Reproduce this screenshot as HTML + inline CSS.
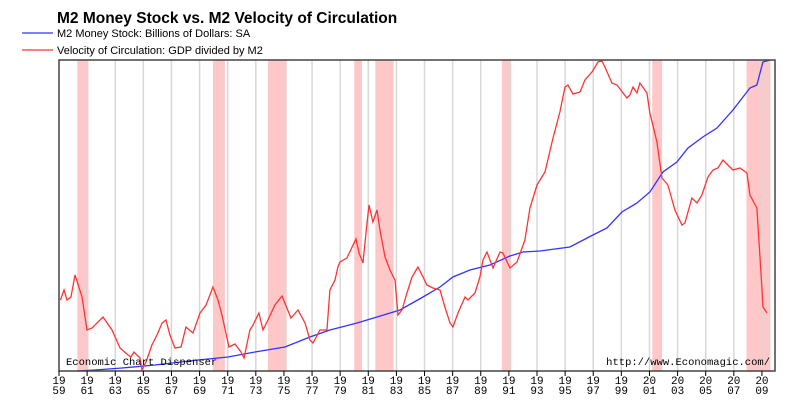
<!DOCTYPE html>
<html><head><meta charset="utf-8"><style>
html,body{margin:0;padding:0;background:#fff;}
svg{display:block;}
</style></head><body>
<svg id="chart" width="802" height="411" xmlns="http://www.w3.org/2000/svg" font-family="Liberation Sans, sans-serif">
<text x="57" y="23" font-size="15.5" font-weight="bold" fill="#000">M2 Money Stock vs. M2 Velocity of Circulation</text>
<g><line x1="22" y1="33" x2="53" y2="33" stroke="#3333ff" stroke-width="1.3"/><text x="57" y="37" font-size="11" fill="#000">M2 Money Stock: Billions of Dollars: SA</text></g>
<g><line x1="22" y1="50" x2="53" y2="50" stroke="#ff3333" stroke-width="1.3"/><text x="57" y="54" font-size="11" fill="#000">Velocity of Circulation: GDP divided by M2</text></g>
<g id="recessions"></g>
<g id="grid"></g>
<g id="series"></g>
<rect x="59" y="60" width="716" height="311" fill="none" stroke="#444" stroke-width="1.5"/>
<g id="xaxis"></g>
<text x="66" y="365" font-family="Liberation Mono, monospace" font-size="10.5" fill="#000">Economic Chart Dispenser</text>
<text x="770" y="365" text-anchor="end" font-family="Liberation Mono, monospace" font-size="10.5" fill="#000">http://www.Economagic.com/</text>
</svg>
<script>
const velYears=[1959.1,1959.36,1959.57,1959.85,1960.14,1960.64,1960.99,1961.35,1962.13,1962.77,1963.34,1963.91,1964.12,1964.33,1964.76,1964.9,1965.19,1965.61,1965.97,1966.33,1966.61,1966.89,1967.25,1967.68,1968.03,1968.53,1969.03,1969.46,1969.95,1970.31,1970.59,1971.09,1971.52,1971.94,1972.16,1972.58,1972.8,1973.22,1973.51,1973.86,1974.36,1974.86,1975.5,1976.0,1976.5,1976.85,1977.07,1977.56,1978.06,1978.27,1978.63,1978.84,1978.99,1979.48,1980.12,1980.34,1980.62,1980.91,1981.05,1981.33,1981.62,1981.83,1982.19,1982.54,1982.9,1983.04,1983.11,1983.4,1983.75,1984.11,1984.53,1984.89,1985.17,1985.6,1986.1,1986.45,1986.81,1987.02,1987.38,1987.88,1988.09,1988.59,1988.94,1989.16,1989.44,1989.87,1990.37,1990.58,1991.08,1991.58,1992.14,1992.5,1993.0,1993.57,1994.14,1994.63,1994.99,1995.2,1995.56,1996.06,1996.41,1996.91,1997.34,1997.62,1997.83,1998.33,1998.69,1999.4,1999.61,1999.83,2000.11,2000.32,2000.82,2001.03,2001.53,2001.89,2002.31,2002.81,2003.31,2003.52,2004.02,2004.38,2004.73,2005.16,2005.52,2005.87,2006.23,2006.58,2006.94,2007.44,2007.93,2008.15,2008.64,2009.0,2009.07,2009.36];
const velValues=[1.642,1.662,1.642,1.648,1.692,1.648,1.582,1.586,1.608,1.582,1.546,1.532,1.528,1.538,1.526,1.502,1.518,1.552,1.572,1.596,1.602,1.572,1.546,1.548,1.588,1.576,1.616,1.632,1.668,1.642,1.612,1.548,1.554,1.538,1.526,1.582,1.592,1.616,1.582,1.602,1.632,1.65,1.606,1.622,1.596,1.562,1.556,1.582,1.582,1.662,1.682,1.708,1.718,1.726,1.764,1.736,1.716,1.796,1.832,1.798,1.822,1.782,1.728,1.702,1.682,1.636,1.612,1.622,1.656,1.688,1.708,1.688,1.672,1.666,1.662,1.628,1.596,1.588,1.616,1.648,1.642,1.656,1.688,1.722,1.738,1.706,1.738,1.736,1.706,1.718,1.762,1.826,1.872,1.898,1.966,2.018,2.068,2.072,2.054,2.058,2.082,2.098,2.118,2.12,2.108,2.076,2.072,2.046,2.052,2.068,2.056,2.076,2.056,2.016,1.958,1.886,1.872,1.822,1.792,1.796,1.846,1.836,1.852,1.888,1.902,1.906,1.922,1.912,1.902,1.906,1.896,1.852,1.826,1.666,1.628,1.616];
const m2Years=[1960.28,1961.56,1963.48,1965.83,1968.89,1971.02,1972.94,1975.07,1976.85,1978.27,1980.2,1981.62,1983.25,1984.89,1986.1,1987.02,1988.23,1989.65,1991.08,1992.0,1993.21,1995.34,1996.98,1997.98,1999.04,2000.11,2001.03,2001.96,2002.95,2003.74,2004.8,2005.8,2006.94,2008.15,2008.64,2009.07,2009.57];
const m2Values=[300,326,378,456,586,664,794,924,1184,1366,1548,1704,1886,2224,2484,2744,2926,3056,3290,3394,3420,3524,3836,4018,4434,4668,4954,5474,5734,6098,6384,6618,7086,7658,7736,8334,8386];
const recStart=[1960.3,1969.95,1973.86,1980.0,1981.5,1990.5,2001.2,2007.9];
const recEnd=[1961.1,1970.8,1975.2,1980.55,1982.8,1991.15,2001.9,2009.6];
const tickYears=[1959,1961,1963,1965,1967,1969,1971,1973,1975,1977,1979,1981,1983,1985,1987,1989,1991,1993,1995,1997,1999,2001,2003,2005,2007,2009];

const NS='http://www.w3.org/2000/svg';
const X0=59,X1=775,Y0=60,Y1=371,YR0=1959,YR1=2009.93;
const xs=y=>X0+(y-YR0)/(YR1-YR0)*(X1-X0);
const yv=v=>Y1-(v-1.5)/(2.122-1.5)*(Y1-Y0);
const ym=v=>Y1-(v-300)/(8386-300)*(Y1-Y0);
function mk(t,a,p){const e=document.createElementNS(NS,t);for(const k in a)e.setAttribute(k,a[k]);p.appendChild(e);return e;}
const rec=document.getElementById('recessions');
recStart.forEach((s,i)=>{
  const r=mk('rect',{x:xs(s),y:Y0,width:xs(recEnd[i])-xs(s),height:Y1-Y0,fill:'#ffc8c8'},rec);
  
  
});
const grid=document.getElementById('grid'),ax=document.getElementById('xaxis');
tickYears.forEach(y=>{
  const x=xs(y);
  if(y>YR0){const g=mk('line',{x1:x,y1:Y0,x2:x,y2:Y1,stroke:'#d8d8d8','stroke-width':1.5},grid);
  
  }
  const t=mk('line',{x1:x,y1:Y1,x2:x,y2:Y1+5,stroke:'#000','stroke-width':1},ax);
  
  
  const s=String(y);
  const l=mk('text',{x:x,y:384,'text-anchor':'middle','font-family':'Liberation Mono, monospace','font-size':'11',fill:'#000'},ax);
  
  
  mk('tspan',{x:x},l).textContent=s.slice(0,2);
  mk('tspan',{x:x,dy:10},l).textContent=s.slice(2);
});
const ser=document.getElementById('series');
const bp=mk('polyline',{points:m2Years.map((y,i)=>xs(y)+','+ym(m2Values[i])).join(' '),fill:'none',stroke:'#3333ff','stroke-width':1.3},ser);


const rp=mk('polyline',{points:velYears.map((y,i)=>xs(y)+','+yv(velValues[i])).join(' '),fill:'none',stroke:'#ff3333','stroke-width':1.3},ser);


</script>
</body></html>
